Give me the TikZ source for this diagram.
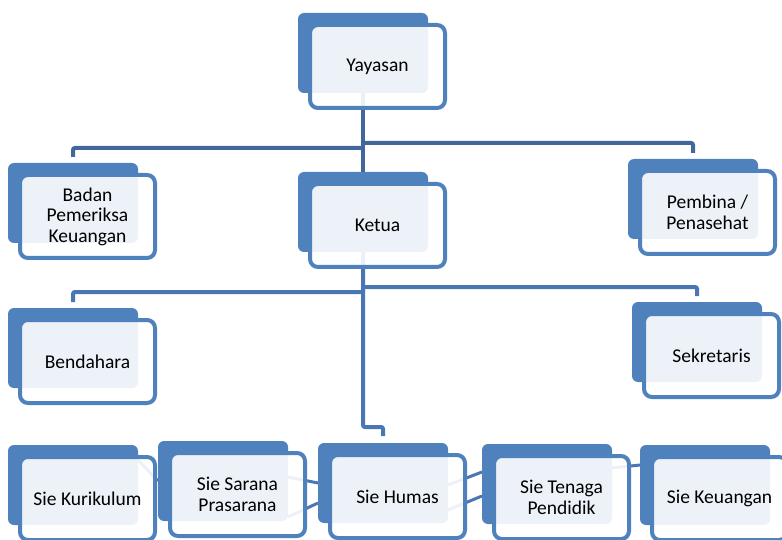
\documentclass[tikz,border=0pt]{standalone}
\usepackage{fontspec}
\setmainfont{Carlito}
\usetikzlibrary{positioning, backgrounds}
\definecolor{accentblue}{RGB}{79,129,189}
\definecolor{linkdark}{RGB}{65,103,155}
\definecolor{linkblue}{RGB}{74,119,180}

\begin{document}
\begin{tikzpicture}[x=1pt, y=-1pt,
      backbox/.style={rectangle, rounded corners=6pt, fill=accentblue,
                      minimum width=130pt, minimum height=80pt,
                      inner sep=0pt, outer sep=0pt, anchor=north west},
      frontbox/.style={rectangle, rounded corners=8pt, draw=accentblue,
                       line width=4pt, fill=white, fill opacity=0.9,
                       text opacity=1, minimum width=135pt,
                       minimum height=83pt, inner sep=0pt, outer sep=0pt,
                       align=center, font=\fontsize{19.5}{20.5}\selectfont},
      link/.style={line width=4pt, linkblue, rounded corners=2pt}
    ]
    \useasboundingbox (0,0) rectangle (782,540);

    % top
    \node[backbox] (yayasanB) at (298,13) {};
    \node[frontbox, below right=12pt and 12pt of yayasanB.north west] (yayasan) {Yayasan};

    % second row
    \node[backbox] (badanB) at (8,163) {};
    \node[frontbox, below right=12pt and 12pt of badanB.north west] (badan) {Badan\\Pemeriksa\\Keuangan};
    \node[backbox] (ketuaB) at (298,172) {};
    \node[frontbox, below right=12pt and 12pt of ketuaB.north west] (ketua) {Ketua};
    \node[backbox] (pembinaB) at (628,159) {};
    \node[frontbox, below right=12pt and 12pt of pembinaB.north west] (pembina) {Pembina /\\Penasehat};

    % third row
    \node[backbox] (bendaharaB) at (8,308) {};
    \node[frontbox, below right=12pt and 12pt of bendaharaB.north west] (bendahara) {Bendahara};
    \node[backbox] (sekretarisB) at (632,302) {};
    \node[frontbox, below right=12pt and 12pt of sekretarisB.north west] (sekretaris) {Sekretaris};

    % bottom row
    \node[backbox] (kurikulumB) at (8,445) {};
    \node[frontbox, below right=12pt and 12pt of kurikulumB.north west] (kurikulum) {Sie Kurikulum};
    \node[backbox] (saranaB) at (158,441) {};
    \node[frontbox, below right=12pt and 12pt of saranaB.north west] (sarana) {Sie Sarana\\Prasarana};
    \node[backbox] (humasB) at (318,443) {};
    \node[frontbox, below right=12pt and 12pt of humasB.north west] (humas) {Sie Humas};
    \node[backbox] (tenagaB) at (482,444) {};
    \node[frontbox, below right=12pt and 12pt of tenagaB.north west] (tenaga) {Sie Tenaga\\Pendidik};
    \node[backbox] (keuanganB) at (640,445) {};
    \node[frontbox, below right=12pt and 12pt of keuanganB.north west] (keuangan) {Sie Keuangan};

    \begin{scope}[on background layer]
      % Yayasan
      \draw[link, linkdark] (yayasanB.south) -- (ketuaB.north);
      \draw[link, linkdark, shorten >=6pt] (yayasanB.south) ++(0,55) -| (badanB.north);
      \draw[link, linkdark, shorten >=6pt] (yayasanB.south) ++(0,50) -| (pembinaB.north);
      % Ketua
      \draw[link, shorten >=7pt] (ketuaB.south) -- ++(0,175) -| (humasB.north);
      \draw[link, shorten >=6pt] (ketuaB.south) ++(0,40) -| (bendaharaB.north);
      \draw[link, shorten >=6pt] (ketuaB.south) ++(0,35) -| (sekretarisB.north);
      % faint links behind the bottom row
      \draw[link, line width=3pt] (kurikulumB.east) ++(0,-25) -- (saranaB.west);
      \draw[link, line width=3pt] (saranaB.east) ++(0,-4) -- (humasB.west);
      \draw[link, line width=3pt] (saranaB.east) ++(0,36) -- ([yshift=-20pt]humasB.west);
      \draw[link, line width=3pt] (humasB.east) ++(0,2) -- ([yshift=12pt]tenagaB.west);
      \draw[link, line width=3pt] (humasB.east) ++(0,27) -- ([yshift=-12pt]tenagaB.west);
      \draw[link, line width=3pt] (tenagaB.east) ++(0,-16) -- ([yshift=20pt]keuanganB.west);
    \end{scope}
  \end{tikzpicture}
\end{document}
